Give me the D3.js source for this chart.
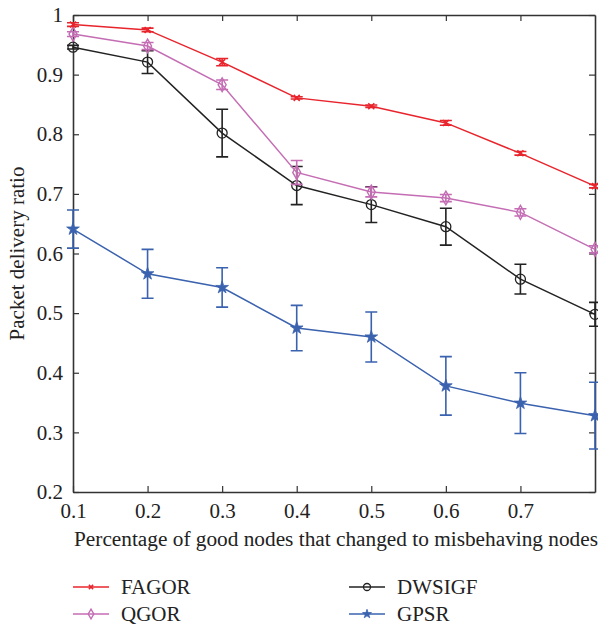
<!DOCTYPE html>
<html><head><meta charset="utf-8">
<script src="https://cdn.jsdelivr.net/npm/d3@7"></script>
<style>body{margin:0;background:#fff}svg{display:block}</style>
</head><body><svg id="c" width="598" height="626"></svg>
<script>
const xValues = [0.1,0.2,0.3,0.4,0.5,0.6,0.7,0.8];
const fagor  = [0.984,0.975,0.921,0.861,0.847,0.819,0.768,0.713];
const fagorErr = [0.003,0.003,0.006,0.002,0.002,0.004,0.003,0.003];
const qgor   = [0.968,0.948,0.883,0.736,0.703,0.693,0.669,0.607];
const qgorErr = [0.004,0.006,0.008,0.02,0.008,0.006,0.006,0.006];
const dwsigf = [0.946,0.921,0.802,0.714,0.682,0.645,0.557,0.498];
const dwsigfErr = [0.003,0.019,0.04,0.032,0.03,0.031,0.025,0.02];
const gpsr   = [0.641,0.566,0.543,0.475,0.460,0.378,0.349,0.328];
const gpsrErr = [0.032,0.041,0.033,0.038,0.042,0.049,0.051,0.056];
const xTicks = [0.1,0.2,0.3,0.4,0.5,0.6,0.7];
const yTicks = [0.2,0.3,0.4,0.5,0.6,0.7,0.8,0.9,1];
const seriesNames = ["FAGOR","QGOR","DWSIGF","GPSR"];
const colors = ["#e8242c","#c46db4","#222222","#3a62ae"];

const FONT = '"Liberation Serif", serif';
const svg = d3.select("#c");
const L=73,R=595,T=15,B=492;
const x = d3.scaleLinear().domain([0.1,0.8]).range([L,R]);
const y = d3.scaleLinear().domain([0.2,1]).range([B,T]);

const series = seriesNames.map((n,i)=>({name:n,v:[fagor,qgor,dwsigf,gpsr][i],e:[fagorErr,qgorErr,dwsigfErr,gpsrErr][i],c:colors[i],m:["x","diamond","circle","star"][i]}));

const tk = 6;
const axL = d3.axisLeft(y).tickValues(yTicks).tickSizeInner(-tk).tickSizeOuter(0).tickPadding(10).tickFormat(d3.format("~g"));
const axR = d3.axisRight(y).tickValues(yTicks).tickSizeInner(-tk).tickSizeOuter(0).tickFormat("");
const axB = d3.axisBottom(x).tickValues(xTicks).tickSizeInner(-tk).tickSizeOuter(0).tickPadding(11).tickFormat(d3.format("~g"));
const axT = d3.axisTop(x).tickValues(xTicks).tickSizeInner(-tk).tickSizeOuter(0).tickFormat("");
function style(g){g.attr("font-family",FONT);g.selectAll("line").attr("stroke","#333").attr("stroke-width",1.2);g.select(".domain").attr("stroke","#333").attr("stroke-width",1.6);g.selectAll("text").style("font-family",FONT).style("font-size","21px").attr("fill","#222");}
svg.append("g").attr("transform",`translate(${L},0)`).call(axL).call(style);
svg.append("g").attr("transform",`translate(${R},0)`).call(axR).call(style);
svg.append("g").attr("transform",`translate(0,${B})`).call(axB).call(style);
svg.append("g").attr("transform",`translate(0,${T})`).call(axT).call(style);
svg.selectAll(".tick text").filter(function(){return this.textContent==="";}).remove();

const line = d3.line().x((d,i)=>x(xValues[i])).y(d=>y(d));

function marker(g,type,cx,cy,c,k){
  k = k||1;
  if(type==="x"){
    const a=3*k;
    g.append("path").attr("d",`M${cx-a},${cy-a}L${cx+a},${cy+a}M${cx-a},${cy+a}L${cx+a},${cy-a}`).attr("stroke",c).attr("stroke-width",1.5);
  } else if(type==="circle"){
    g.append("circle").attr("cx",cx).attr("cy",cy).attr("r",5*k).attr("fill","none").attr("stroke",c).attr("stroke-width",1.3);
  } else if(type==="diamond"){
    g.append("path").attr("d",d3.symbol(d3.symbolDiamond,55*k*k)()).attr("transform",`translate(${cx},${cy})`).attr("fill","none").attr("stroke",c).attr("stroke-width",1.4);
  } else if(type==="star"){
    g.append("path").attr("d",d3.symbol(d3.symbolStar,50*k*k)()).attr("transform",`translate(${cx},${cy})`).attr("fill",c).attr("stroke",c).attr("stroke-width",0.8);
  }
}

[...series].reverse().forEach(s=>{
  const g = svg.append("g");
  s.v.forEach((v,i)=>{
    const cx=x(xValues[i]), y1=y(v+s.e[i]), y2=y(v-s.e[i]);
    g.append("path").attr("d",`M${cx},${y1}V${y2}M${cx-6},${y1}H${cx+6}M${cx-6},${y2}H${cx+6}`).attr("stroke",s.c).attr("stroke-width",1.6).attr("fill","none");
  });
  g.append("path").datum(s.v).attr("d",line).attr("fill","none").attr("stroke",s.c).attr("stroke-width",1.5);
  s.v.forEach((v,i)=>marker(g,s.m,x(xValues[i]),y(v),s.c));
});

function txt(sel,fs){return sel.style("font-family",FONT).style("font-size",(fs||21)+"px").attr("fill","#222");}
svg.append("text").attr("x",336).attr("y",546).attr("text-anchor","middle").call(txt,21.3).text("Percentage of good nodes that changed to misbehaving nodes");
svg.append("text").attr("transform",`translate(24,${(T+B)/2}) rotate(-90)`).attr("text-anchor","middle").call(txt,21).text("Packet delivery ratio");

const legPos = [[73,587],[73,614],[349,587],[349,614]];
series.forEach((s,i)=>{
  const [lx,ly]=legPos[i];
  const g=svg.append("g");
  g.append("line").attr("x1",lx).attr("x2",lx+36).attr("y1",ly).attr("y2",ly).attr("stroke",s.c).attr("stroke-width",1.5);
  marker(g,s.m,lx+18,ly,s.c,0.7);
  g.append("text").attr("x",lx+48).attr("y",ly+7).call(txt,21).text(s.name);
});
</script></body></html>
